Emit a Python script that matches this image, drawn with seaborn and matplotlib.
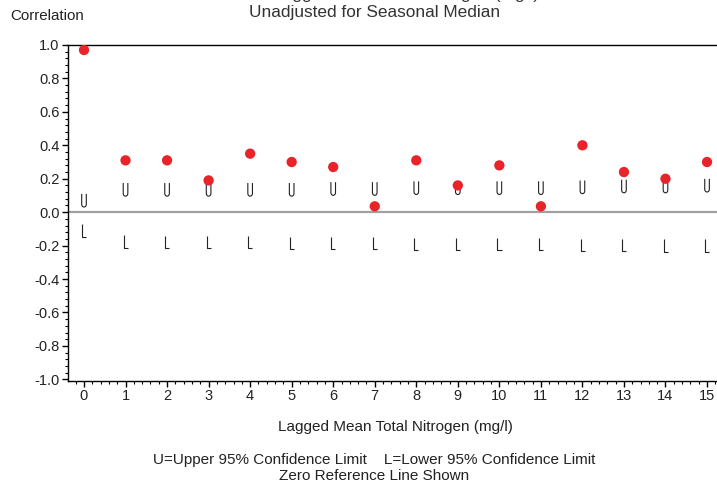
import numpy as np
import matplotlib
matplotlib.use("Agg")
import matplotlib.pyplot as plt
import seaborn as sns
from matplotlib.path import Path
from matplotlib.ticker import MultipleLocator

# ----- DONNÉES -----
lags = [0, 1, 2, 3, 4, 5, 6, 7, 8, 9, 10, 11, 12, 13, 14, 15]
correlation = [0.97, 0.31, 0.31, 0.19, 0.35, 0.30, 0.27, 0.035, 0.31, 0.16,
               0.28, 0.035, 0.40, 0.24, 0.20, 0.30]
upper_ci = [0.07, 0.135, 0.135, 0.135, 0.135, 0.135, 0.14, 0.14, 0.145, 0.145,
            0.145, 0.145, 0.15, 0.155, 0.155, 0.16]
lower_ci = [-0.11, -0.175, -0.18, -0.18, -0.18, -0.185, -0.185, -0.185, -0.19,
            -0.19, -0.19, -0.19, -0.195, -0.195, -0.2, -0.2]
yticks = [-1.0, -0.8, -0.6, -0.4, -0.2, 0.0, 0.2, 0.4, 0.6, 0.8, 1.0]

titre_1 = "Flow vs Lagged Mean Total Nitrogen (mg/l)"
titre_2 = "Unadjusted for Seasonal Median"
xlabel = "Lagged Mean Total Nitrogen (mg/l)"
ylabel = "Correlation"
note_1 = "U=Upper 95% Confidence Limit    L=Lower 95% Confidence Limit"
note_2 = "Zero Reference Line Shown"

# ----- STYLE -----
sns.set_theme(style="white")
plt.rcParams["font.family"] = ["Liberation Sans", "DejaVu Sans"]

# marqueurs "U" et "L" dessinés comme chemins (lettres étroites)
theta = np.linspace(np.pi, 2 * np.pi, 9)
u_verts = [(-0.35, 1.0)] + [(0.35 * np.cos(t), -0.6 + 0.4 * np.sin(t)) for t in theta] + [(0.35, 1.0)]
u_path = Path(u_verts, [Path.MOVETO] + [Path.LINETO] * (len(u_verts) - 1))
l_path = Path([(-0.3, 1.0), (-0.3, -1.0), (0.35, -1.0)],
              [Path.MOVETO, Path.LINETO, Path.LINETO])

fig = plt.figure(figsize=(7.17, 4.83), dpi=100)
ax = fig.add_axes([68 / 717, 1 - 381 / 483, 1 - 68 / 717, (381 - 45) / 483])

# ligne de référence zéro
ax.axhline(0, color="#a0a0a0", linewidth=1.6, zorder=1)

sns.scatterplot(x=lags, y=upper_ci, marker=u_path, s=90, color="black",
                facecolor="none", edgecolor="#222222", linewidth=0.8, ax=ax, zorder=2)
sns.scatterplot(x=lags, y=lower_ci, marker=l_path, s=80, color="black",
                facecolor="none", edgecolor="#222222", linewidth=0.8, ax=ax, zorder=2)
sns.scatterplot(x=lags, y=correlation, color="#e8232a", s=55, edgecolor="none",
                ax=ax, zorder=3)

ax.set_xlim(-0.385, 15.24)
ax.set_ylim(-1.01, 1.0)
ax.xaxis.set_major_locator(MultipleLocator(1))
ax.xaxis.set_minor_locator(MultipleLocator(0.2))
ax.yaxis.set_minor_locator(MultipleLocator(0.04))
ax.set_yticks(yticks)
ax.set_yticklabels([f"{v + 0.0:.1f}" for v in yticks])

ax.tick_params(axis="both", which="major", direction="out", length=4, width=1,
               color="black", labelsize=10.5, labelcolor="#222222", pad=2,
               bottom=True, left=True)
ax.tick_params(axis="both", which="minor", direction="out", length=2.5, width=0.8,
               color="black", bottom=True, left=True)

for side in ["left", "bottom", "top"]:
    ax.spines[side].set_color("black")
    ax.spines[side].set_linewidth(1)
ax.spines["right"].set_visible(False)

# titres et textes
fig.text(0.523, 1 + 5 / 483, titre_1, ha="center", va="center", fontsize=12.4, color="#333333")
fig.text(0.523, 1 - 13 / 483, titre_2, ha="center", va="center", fontsize=12.4, color="#333333")
fig.text(10 / 717, 1 - 16 / 483, ylabel, ha="left", va="center", fontsize=10.9, color="#222222")
fig.text(395 / 717, 1 - 427 / 483, xlabel, ha="center", va="center", fontsize=11, color="#222222")
fig.text(374 / 717, 1 - 460 / 483, note_1, ha="center", va="center", fontsize=11, color="#222222")
fig.text(374 / 717, 1 - 476 / 483, note_2, ha="center", va="center", fontsize=11, color="#222222")

fig.savefig("out.png", dpi=100)
